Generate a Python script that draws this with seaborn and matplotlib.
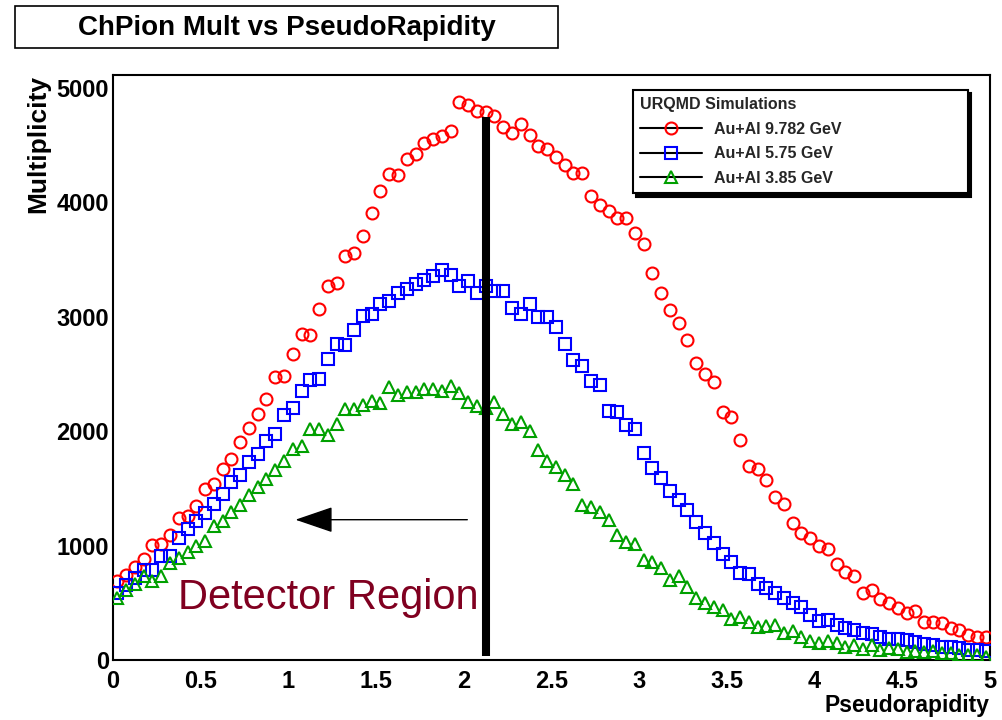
import numpy as np
import pandas as pd
import matplotlib
matplotlib.use("Agg")
import matplotlib.pyplot as plt
from matplotlib.lines import Line2D
from matplotlib.patches import Rectangle
from matplotlib.ticker import MultipleLocator, FixedLocator, FixedFormatter
import seaborn as sns

# ---------------- data ----------------
# 100 histogram bins over pseudorapidity 0..5 (bin width 0.05), values at bin centres
eta = np.round(np.arange(100) * 0.05 + 0.025, 3)

mult_9782 = [686, 744, 812, 884, 1007, 1016, 1092, 1241, 1255, 1349,
             1495, 1541, 1670, 1760, 1903, 2029, 2151, 2285, 2470, 2481,
             2671, 2846, 2840, 3071, 3264, 3292, 3532, 3553, 3707, 3905,
             4101, 4247, 4238, 4378, 4422, 4516, 4553, 4577, 4626, 4875,
             4851, 4795, 4789, 4750, 4657, 4608, 4684, 4585, 4492, 4469,
             4397, 4328, 4255, 4255, 4058, 3975, 3926, 3860, 3860, 3735,
             3636, 3384, 3211, 3055, 2948, 2796, 2598, 2496, 2432, 2165,
             2125, 1926, 1693, 1670, 1576, 1421, 1363, 1197, 1109, 1066,
             992, 973, 841, 765, 730, 584, 613, 532, 496, 453,
             414, 432, 335, 335, 321, 278, 263, 219, 204, 199]

mult_575 = [584, 657, 715, 788, 788, 905, 911, 1066, 1147, 1211,
            1284, 1366, 1451, 1556, 1620, 1728, 1804, 1918, 1979, 2141,
            2205, 2350, 2443, 2458, 2633, 2758, 2752, 2881, 3006, 3021,
            3109, 3138, 3211, 3240, 3284, 3319, 3357, 3406, 3365, 3264,
            3315, 3206, 3271, 3224, 3224, 3074, 3020, 3109, 2997, 2997,
            2911, 2757, 2624, 2568, 2437, 2404, 2174, 2163, 2054, 2015,
            1811, 1676, 1593, 1480, 1401, 1308, 1206, 1109, 1022, 928,
            855, 759, 753, 665, 628, 589, 540, 496, 467, 394,
            344, 347, 306, 277, 263, 234, 225, 204, 181, 181,
            175, 160, 140, 131, 117, 111, 102, 88, 88, 81]

mult_385 = [540, 613, 665, 730, 686, 730, 852, 890, 948, 992,
            1042, 1167, 1211, 1290, 1357, 1445, 1512, 1582, 1658, 1736,
            1843, 1868, 2020, 2020, 1970, 2058, 2195, 2195, 2224, 2262,
            2248, 2388, 2320, 2341, 2341, 2370, 2364, 2350, 2393, 2335,
            2253, 2223, 2200, 2252, 2147, 2065, 2081, 1998, 1834, 1735,
            1686, 1620, 1538, 1356, 1340, 1290, 1224, 1093, 1027, 1011,
            878, 853, 800, 699, 730, 642, 540, 496, 467, 438,
            356, 379, 335, 292, 298, 306, 234, 257, 204, 169,
            146, 168, 146, 117, 131, 94, 131, 88, 102, 94,
            73, 81, 73, 81, 64, 59, 44, 44, 44, 29]

series_labels = ["Au+Al 9.782 GeV", "Au+Al 5.75 GeV", "Au+Al 3.85 GeV"]
series_colors = ["#ff0000", "#0000ff", "#00a000"]
series_markers = ["o", "s", "^"]

x_ticks = [0, 0.5, 1, 1.5, 2, 2.5, 3, 3.5, 4, 4.5, 5]
x_tick_labels = ["0", "0.5", "1", "1.5", "2", "2.5", "3", "3.5", "4", "4.5", "5"]
y_ticks = [0, 1000, 2000, 3000, 4000, 5000]
y_tick_labels = ["0", "1000", "2000", "3000", "4000", "5000"]

title_text = "ChPion Mult vs PseudoRapidity"
legend_title = "URQMD Simulations"
annotation_text = "Detector Region"
detector_edge = 2.127          # eta of the thick vertical marker line
detector_line_span = (38, 4742)
arrow_from = (2.02, 1226)
arrow_to = (1.04, 1226)
annotation_pos = (0.371, 449)

# ---------------- styling ----------------
sns.set_theme(style="white")
plt.rcParams["font.family"] = ["Liberation Sans", "DejaVu Sans"]

W, H = 1002, 720
fig = plt.figure(figsize=(W / 100, H / 100), dpi=100)
fig.patch.set_facecolor("white")
ax = fig.add_axes([113 / W, 60 / H, 877 / W, 585 / H])
ax.set_facecolor("white")

df = pd.DataFrame({"eta": eta, series_labels[0]: mult_9782,
                   series_labels[1]: mult_575, series_labels[2]: mult_385})

MS, MEW = 8.6, 1.5
for lab, col, mk in zip(series_labels, series_colors, series_markers):
    sns.lineplot(data=df, x="eta", y=lab, ax=ax, errorbar=None, sort=False,
                 linestyle="", marker=mk, markersize=MS, markerfacecolor="none",
                 markeredgecolor=col, markeredgewidth=MEW, color=col,
                 legend=False, zorder=3)

# thick vertical line marking the detector edge
ax.plot([detector_edge, detector_edge], list(detector_line_span), color="black",
        lw=5.8, solid_capstyle="butt", zorder=4)

# arrow pointing to the detector region
ax.annotate("", xy=arrow_to, xytext=arrow_from,
            arrowprops=dict(arrowstyle="-|>,head_length=2.4,head_width=0.82",
                            mutation_scale=10, lw=1.0, color="black",
                            shrinkA=0, shrinkB=0), zorder=4)

ax.text(annotation_pos[0], annotation_pos[1], annotation_text, color="#800020",
        fontsize=30, ha="left", va="baseline", zorder=5)

# axes ranges and ticks
ax.set_xlim(0, 5)
ax.set_ylim(0, 5112)
ax.xaxis.set_major_locator(FixedLocator(x_ticks))
ax.xaxis.set_major_formatter(FixedFormatter(x_tick_labels))
ax.yaxis.set_major_locator(FixedLocator(y_ticks))
ax.yaxis.set_major_formatter(FixedFormatter(y_tick_labels))
ax.xaxis.set_minor_locator(MultipleLocator(0.1))
ax.yaxis.set_minor_locator(MultipleLocator(200))

ax.tick_params(axis="both", which="both", direction="in", color="black",
               top=False, right=False, width=1.4)
ax.tick_params(axis="x", which="major", length=12.2, pad=7, labelsize=17)
ax.tick_params(axis="x", which="minor", length=6.5)
ax.tick_params(axis="y", which="major", length=18.7, pad=3, labelsize=17)
ax.tick_params(axis="y", which="minor", length=9.4)
for lbl in ax.get_xticklabels() + ax.get_yticklabels():
    lbl.set_fontweight("bold")
    lbl.set_color("black")

for side in ["left", "bottom", "top", "right"]:
    ax.spines[side].set_visible(True)
    ax.spines[side].set_color("black")
    ax.spines[side].set_linewidth(1.5)

ax.set_xlabel("Pseudorapidity", loc="right", fontsize=16.5, fontweight="bold",
              labelpad=1, color="black")
ax.set_ylabel("Multiplicity", loc="top", fontsize=19, fontweight="bold",
              labelpad=4, color="black")

# legend
handles = [Line2D([0], [0], color="black", lw=1.5, marker=mk, markersize=MS,
                  markerfacecolor="none", markeredgecolor=col, markeredgewidth=MEW)
           for col, mk in zip(series_colors, series_markers)]
leg = ax.legend(handles, series_labels, title=legend_title, loc="upper left",
                bbox_to_anchor=(633 / W, 1 - 200 / H, 335 / W, 110 / H),
                bbox_transform=fig.transFigure, mode="expand", borderaxespad=0,
                borderpad=0.45, prop={"weight": "bold", "size": 11.5},
                title_fontproperties={"weight": "bold", "size": 11.5},
                alignment="left", handlelength=3.9, handletextpad=0.75,
                labelspacing=0.6, frameon=True, fancybox=False,
                edgecolor="black", facecolor="white", framealpha=1,
                shadow={"ox": 2.5, "oy": -2.5, "facecolor": "black",
                        "edgecolor": "black", "alpha": 1})
leg.get_frame().set_linewidth(1.5)
leg.set_zorder(10)

# title box
fig.patches.append(Rectangle((15 / W, 1 - 48 / H), 543 / W, 42 / H,
                             transform=fig.transFigure, facecolor="white",
                             edgecolor="black", lw=1.2))
fig.text(287 / W, 1 - 35 / H, title_text, ha="center", va="baseline",
         fontsize=20, fontweight="bold", color="black")

fig.savefig("out.png", dpi=100, facecolor="white")
